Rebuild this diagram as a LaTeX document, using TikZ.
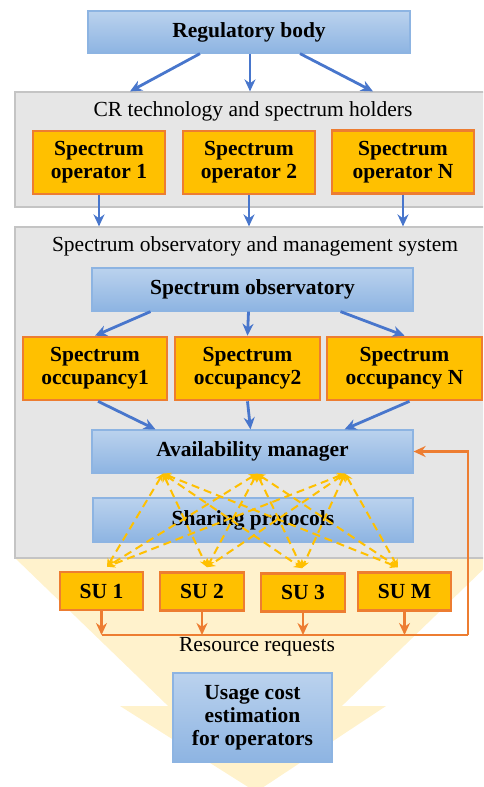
\documentclass[tikz,border=0pt]{standalone}
\usepackage{fontspec}
\setmainfont{Liberation Serif}
\usepackage{tikz}
\usetikzlibrary{arrows.meta, positioning}

\definecolor{boxblue}{RGB}{141,180,226}
\definecolor{arrowblue}{RGB}{72,118,204}
\definecolor{suorange}{RGB}{255,192,0}
\definecolor{edgeorange}{RGB}{237,125,49}
\definecolor{panelgray}{RGB}{230,230,230}
\definecolor{paneledge}{RGB}{196,196,196}
\definecolor{funnel}{RGB}{255,242,204}

\begin{document}
\begin{tikzpicture}[
    x=1pt, y=-1pt,
    font=\fontsize{21.5}{23}\selectfont,
    bluebox/.style={rectangle, draw=boxblue, line width=1.2pt, top color=boxblue!60!white, bottom color=boxblue, font=\fontsize{21.5}{23}\selectfont\bfseries, align=center, inner sep=0pt},
    orangebox/.style={rectangle, draw=edgeorange, line width=2.6pt, fill=suorange, font=\fontsize{21.5}{23}\selectfont\bfseries, align=center, inner sep=0pt},
    panel/.style={rectangle, draw=paneledge, line width=1.2pt, fill=panelgray, inner sep=0pt},
    arrow/.style={-{Stealth[length=12pt,width=11pt]}, line width=2.8pt, draw=arrowblue},
    reqarrow/.style={-{Stealth[length=12pt,width=11pt]}, line width=2.8pt, draw=edgeorange},
    dasharrow/.style={{Stealth[length=8pt,width=8pt]}-{Stealth[length=8pt,width=8pt]}, line width=2pt, draw=suorange, dash pattern=on 8pt off 5pt}
]
\clip (0,0) rectangle (483,787);

% funnel in the background
\fill[funnel] (15,558) -- (495,558) -- (255,790) -- cycle;
\fill[funnel] (120,706) -- (386,706) -- (256,792) -- cycle;

% top of the hierarchy
\node[bluebox, minimum width=322, minimum height=42] (reg) at (249,32) {Regulatory body};

% spectrum holders
\node[panel, minimum width=470, minimum height=115] (holders) at (250,149.5) {};
\node (holderslabel) at (253,111) {CR technology and spectrum holders};
\node[orangebox, minimum width=132, minimum height=63] (op1) at (99,162.5) {Spectrum\\operator 1};
\node[orangebox, minimum width=132, minimum height=63] (op2) at (249,162.5) {Spectrum\\operator 2};
\node[orangebox, minimum width=142, minimum height=63] (opN) at (403,162) {Spectrum\\operator N};

\draw[arrow] ([xshift=-49pt]reg.south) -- ([xshift=-120pt]holders.north);
\draw[arrow] ([xshift=1pt]reg.south) -- (holders.north);
\draw[arrow] ([xshift=51pt]reg.south) -- ([xshift=123pt]holders.north);

% observatory and management system
\node[panel, minimum width=470, minimum height=331] (mgmt) at (250,392.5) {};
\node (mgmtlabel) at (255,246) {Spectrum observatory and management system};

\draw[arrow] (op1.south) -- (op1.south |- mgmt.north);
\draw[arrow] (op2.south) -- (op2.south |- mgmt.north);
\draw[arrow] (opN.south) -- (opN.south |- mgmt.north);

\node[bluebox, minimum width=321, minimum height=43] (obs) at (252.5,289.5) {Spectrum observatory};
\node[orangebox, minimum width=144, minimum height=63] (occ1) at (95,368.5) {Spectrum\\occupancy1};
\node[orangebox, minimum width=145, minimum height=63] (occ2) at (247.5,368.5) {Spectrum\\occupancy2};
\node[orangebox, minimum width=155, minimum height=63] (occN) at (404.5,368.5) {Spectrum\\occupancy N};
\node[bluebox, minimum width=321, minimum height=43] (avail) at (252.5,451.5) {Availability manager};
\node[bluebox, minimum width=320, minimum height=44] (sharing) at (253,520) {Sharing protocols};

\draw[arrow] ([xshift=-102pt]obs.south) -- (occ1.north);
\draw[arrow] ([xshift=-4pt]obs.south) -- (occ2.north);
\draw[arrow] ([xshift=88pt]obs.south) -- (occN.north);
\draw[arrow] ([xshift=3pt]occ1.south) -- ([xshift=-97pt]avail.north);
\draw[arrow] (occ2.south) -- ([xshift=-2pt]avail.north);
\draw[arrow] ([xshift=5pt]occN.south) -- ([xshift=92pt]avail.north);

% secondary users
\node[orangebox, minimum width=83, minimum height=38] (su1) at (101.5,591) {SU 1};
\node[orangebox, minimum width=84, minimum height=38] (su2) at (202,591.5) {SU 2};
\node[orangebox, minimum width=84, minimum height=38] (su3) at (303,592.5) {SU 3};
\node[orangebox, minimum width=93, minimum height=38] (suM) at (404.5,591.5) {SU M};

\foreach \src in {-89.5,4.5,92.5}
  \foreach \dst/\dx in {su1/5.5, su2/5, su3/-1, suM/-6.5}
    \draw[dasharrow] ([xshift=\src pt]avail.south) -- ([xshift=\dx pt, yshift=4pt]\dst.north);

% resource requests back to the manager
\coordinate (busend) at (468,635);
\draw[edgeorange, line width=2.8pt] (su1.south |- busend) -- (busend);
\foreach \su in {su1,su2,su3,suM}
  \draw[reqarrow] (\su.south) -- (\su.south |- busend);
\draw[reqarrow] (busend) |- (avail.east);
\node (reqlabel) at (257,647) {Resource requests};

% cost estimation
\node[bluebox, minimum width=159, minimum height=89] (cost) at (252.5,717.5) {Usage cost\\estimation\\for operators};

\end{tikzpicture}
\end{document}
